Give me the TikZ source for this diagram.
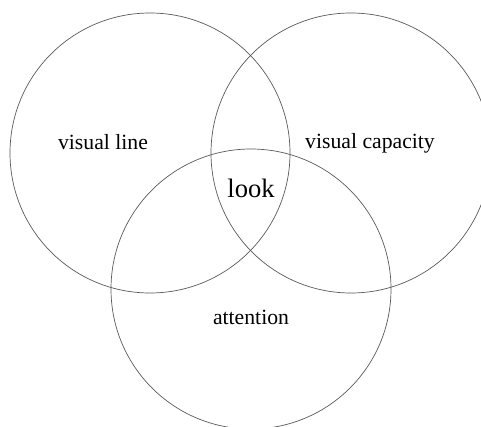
\documentclass[tikz,border=0pt]{standalone}
\usepackage{fontspec}
\setmainfont{Liberation Serif}
\usetikzlibrary{positioning}

\begin{document}
\begin{tikzpicture}[
      x=1pt, y=1pt,
      ring/.style={draw=black!65, line width=0.7pt, circle, inner sep=0pt, minimum size=280pt},
      lbl/.style={font=\fontsize{21.7}{24}\selectfont, inner sep=0pt},
      core/.style={font=\fontsize{26.6}{30}\selectfont, inner sep=0pt}
  ]
    \useasboundingbox (0,0) rectangle (481,426);
    \clip (0,0) rectangle (481,426);

    \node[ring] (sight) at (150,273) {};
    \node[ring] (capacity) at (351,273) {};
    \node[ring] (attn) at (251,137) {};

    \node[lbl] (sightlbl) at (103,284) {visual line};
    \node[lbl] (capacitylbl) at (370,283) {visual capacity};
    \node[core] (look) at (251,238) {look};
    \node[lbl] (attnlbl) at (251,109) {attention};
  \end{tikzpicture}
\end{document}
